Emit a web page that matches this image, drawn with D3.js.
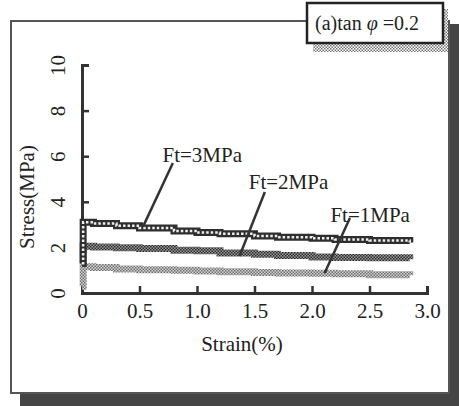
<!DOCTYPE html>
<html>
<head>
<meta charset="utf-8">
<script src="https://cdn.jsdelivr.net/npm/d3@7"></script>
<style>
    body { margin: 0; background: #fff; }
</style>
</head>
<body>
<div id="canvas"></div>
<script>
"use strict";

// Data
let strain = [0, 0.01, 0.1, 0.3, 0.5, 0.8, 1.0, 1.2, 1.5, 1.7, 2.0, 2.2, 2.5, 2.85];
let stressFt3 = [1.3, 3.1, 3.05, 2.95, 2.85, 2.72, 2.65, 2.6, 2.5, 2.45, 2.4, 2.35, 2.3, 2.22];
let stressFt2 = [1.3, 2.05, 2.02, 1.98, 1.95, 1.88, 1.85, 1.75, 1.7, 1.65, 1.58, 1.56, 1.55, 1.48];
let stressFt1 = [0.3, 1.15, 1.12, 1.05, 1.02, 1.0, 0.97, 0.93, 0.9, 0.88, 0.87, 0.84, 0.8, 0.78];

let seriesNames = ["Ft=3MPa", "Ft=2MPa", "Ft=1MPa"];
let xTicks = [0, 0.5, 1.0, 1.5, 2.0, 2.5, 3.0];
let xTickLabels = ["0", "0.5", "1.0", "1.5", "2.0", "2.5", "3.0"];
let yTicks = [0, 2, 4, 6, 8, 10];

// label anchor (data units) and leader line end points (data units)
let labelPos = [[0.70, 5.75], [1.45, 4.56], [2.16, 3.11]];
let leaderFrom = [[0.79, 5.7], [1.59, 4.43], [2.33, 3.29]];
let leaderTo = [[0.53, 2.9], [1.37, 1.62], [2.11, 0.88]];

let svgWidth = 459;
let svgHeight = 406;
let serif = "'Liberation Serif', 'DejaVu Serif', serif";

let svg = d3.select("#canvas")
    .append("svg")
    .attr("width", svgWidth)
    .attr("height", svgHeight);

// patterns for the hatched lines
let defs = svg.append("defs");

function checker(id, dark, light, size) {
    let p = defs.append("pattern")
        .attr("id", id)
        .attr("patternUnits", "userSpaceOnUse")
        .attr("width", size * 2)
        .attr("height", size * 2);
    p.append("rect").attr("width", size * 2).attr("height", size * 2).attr("fill", light);
    p.append("rect").attr("width", size).attr("height", size).attr("fill", dark);
    p.append("rect").attr("x", size).attr("y", size).attr("width", size).attr("height", size).attr("fill", dark);
}
checker("pat2", "#2a2a2a", "#9a9a9a", 1.5);
checker("pat1", "#6e6e6e", "#d4d4d4", 1.5);
checker("patShadow", "#777", "#fff", 1.5);

// frame with shadow
svg.append("rect")
    .attr("x", 20).attr("y", 24)
    .attr("width", 439).attr("height", 382)
    .attr("fill", "#454545");

svg.append("rect")
    .attr("x", 11).attr("y", 21)
    .attr("width", 438).attr("height", 372)
    .attr("fill", "white")
    .attr("stroke", "#555")
    .attr("stroke-width", 2);

// title box
svg.append("rect")
    .attr("x", 313).attr("y", 9)
    .attr("width", 135).attr("height", 43)
    .attr("fill", "url(#patShadow)");

svg.append("rect")
    .attr("x", 307).attr("y", 3)
    .attr("width", 136).attr("height", 40)
    .attr("fill", "white")
    .attr("stroke", "#222")
    .attr("stroke-width", 2.5);

let title = svg.append("text")
    .attr("x", 315)
    .attr("y", 30)
    .style("font-family", serif)
    .style("font-size", "20px")
    .attr("fill", "#222");
title.append("tspan").text("(a)tan ");
title.append("tspan").style("font-style", "italic").text("\u03C6");
title.append("tspan").text(" =0.2");

// scales
let xScale = d3.scaleLinear().domain([0, 3]).range([82, 427]);
let yScale = d3.scaleLinear().domain([0, 10]).range([293, 65]);

// axes (ticks point inward)
let xAxis = d3.axisBottom(xScale)
    .tickValues(xTicks)
    .tickFormat(function(d, i) { return xTickLabels[i]; })
    .tickSize(-7)
    .tickPadding(10);

let yAxis = d3.axisLeft(yScale)
    .tickValues(yTicks)
    .tickSize(-7)
    .tickPadding(10);

let gx = svg.append("g")
    .attr("transform", "translate(0," + yScale(0) + ")")
    .call(xAxis);

let gy = svg.append("g")
    .attr("transform", "translate(" + xScale(0) + ",0)")
    .call(yAxis);

[gx, gy].forEach(function(g) {
    g.attr("font-family", null).attr("font-size", null);
    g.select(".domain").attr("stroke", "#333").attr("stroke-width", 3);
    g.selectAll(".tick line").attr("stroke", "#333").attr("stroke-width", 2.5);
    g.selectAll(".tick text")
        .style("font-family", serif)
        .style("font-size", "21px")
        .attr("fill", "#222");
});

// rotate y tick labels
gy.selectAll(".tick text")
    .attr("transform", "rotate(-90)")
    .attr("text-anchor", "middle")
    .attr("x", 0)
    .attr("y", -17)
    .attr("dy", null);

// axis titles
svg.append("text")
    .attr("x", 242)
    .attr("y", 351)
    .attr("text-anchor", "middle")
    .style("font-family", serif)
    .style("font-size", "21px")
    .attr("fill", "#222")
    .text("Strain(%)");

svg.append("text")
    .attr("transform", "translate(34,197) rotate(-90)")
    .attr("text-anchor", "middle")
    .style("font-family", serif)
    .style("font-size", "21px")
    .attr("fill", "#222")
    .text("Stress(MPa)");

// data lines
let line = d3.line()
    .x(function(d) { return xScale(d[0]); })
    .y(function(d) { return yScale(d[1]); })
    .curve(d3.curveStepAfter);

function pairs(values) {
    return strain.map(function(s, i) { return [s, values[i]]; });
}

svg.append("path")
    .datum(pairs(stressFt1))
    .attr("d", line)
    .attr("fill", "none")
    .attr("stroke", "url(#pat1)")
    .attr("stroke-width", 7);

svg.append("path")
    .datum(pairs(stressFt2))
    .attr("d", line)
    .attr("fill", "none")
    .attr("stroke", "url(#pat2)")
    .attr("stroke-width", 7);

svg.append("path")
    .datum(pairs(stressFt3))
    .attr("d", line)
    .attr("fill", "none")
    .attr("stroke", "#2e2e2e")
    .attr("stroke-width", 7);

// white holes for the chain-like Ft=3 line
svg.append("path")
    .datum(pairs(stressFt3))
    .attr("d", line)
    .attr("fill", "none")
    .attr("stroke", "#eee")
    .attr("stroke-width", 2.5)
    .attr("stroke-dasharray", "2.5,2");

// labels and leader lines
for (let i = 0; i < seriesNames.length; i++) {
    svg.append("line")
        .attr("x1", xScale(leaderFrom[i][0]))
        .attr("y1", yScale(leaderFrom[i][1]))
        .attr("x2", xScale(leaderTo[i][0]))
        .attr("y2", yScale(leaderTo[i][1]))
        .attr("stroke", "#333")
        .attr("stroke-width", 2.5);

    svg.append("text")
        .attr("x", xScale(labelPos[i][0]))
        .attr("y", yScale(labelPos[i][1]))
        .style("font-family", serif)
        .style("font-size", "21px")
        .attr("fill", "#222")
        .text(seriesNames[i]);
}
</script>
</body>
</html>
